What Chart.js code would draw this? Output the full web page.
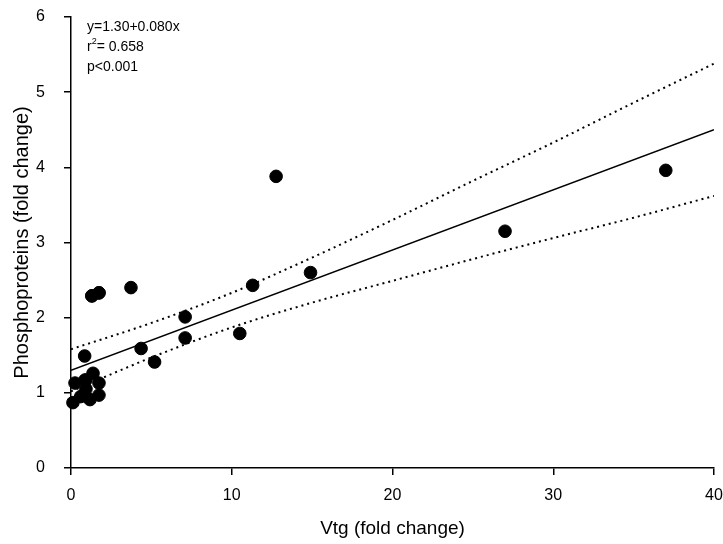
<!DOCTYPE html>
<html>
<head>
<meta charset="utf-8">
<script src="https://cdn.jsdelivr.net/npm/chart.js@4"></script>
<style>
  html, body { margin: 0; padding: 0; background: #fff; }
  #wrap { width: 723px; height: 544px; }
</style>
</head>
<body>
<div id="wrap"><canvas id="scatterChart" width="723" height="544"></canvas></div>
<script>
// Vtg vs phosphoproteins
const vtgValues = [0.12, 0.25, 0.6, 0.87, 0.93, 0.93, 1.18, 1.3, 1.37, 1.74, 1.74, 1.74, 0.85,
                   1.3, 1.74, 3.73, 4.36, 5.2, 7.1, 7.1, 10.5, 11.3, 12.76, 14.9, 27.0, 37.0];
const phosValues = [0.87, 1.13, 0.95, 1.17, 1.05, 1.17, 0.91, 2.29, 1.26, 1.13, 0.97, 2.33, 1.49,
                    2.29, 2.33, 2.40, 1.59, 1.41, 2.01, 1.73, 1.79, 2.43, 3.88, 2.60, 3.15, 3.96];

// regression line and 95% confidence band
const fitX = [0, 40];
const fitY = [1.30, 4.50];
const bandX = [0, 5, 10, 15, 20, 25, 30, 35, 40];
const upperY = [1.58, 1.93, 2.33, 2.80, 3.30, 3.82, 4.33, 4.86, 5.38];
const lowerY = [1.02, 1.47, 1.87, 2.20, 2.49, 2.78, 3.06, 3.33, 3.62];

const xTicks = [0, 10, 20, 30, 40];
const yTicks = [0, 1, 2, 3, 4, 5, 6];

const toPoints = (xs, ys) => xs.map((x, i) => ({ x, y: ys[i] }));

const FONT = 'Liberation Sans, Arial, sans-serif';

const annotation = {
    id: 'annotation',
    afterDraw(chart) {
        const ctx = chart.ctx;
        ctx.save();
        ctx.fillStyle = '#000';
        ctx.textBaseline = 'alphabetic';
        ctx.font = '14px ' + FONT;
        ctx.fillText('y=1.30+0.080x', 87, 31);
        ctx.fillText('r', 87, 51);
        const rw = ctx.measureText('r').width;
        ctx.font = '9px ' + FONT;
        ctx.fillText('2', 87 + rw, 44);
        const sw = ctx.measureText('2').width;
        ctx.font = '14px ' + FONT;
        ctx.fillText('= 0.658', 87 + rw + sw, 51);
        ctx.fillText('p<0.001', 87, 71);
        ctx.restore();
    }
};

const ctx = document.getElementById('scatterChart').getContext('2d');
new Chart(ctx, {
    type: 'scatter',
    data: {
        datasets: [
            {
                label: 'samples',
                data: toPoints(vtgValues, phosValues),
                backgroundColor: '#000',
                borderColor: '#000',
                pointRadius: 6.3,
                pointHoverRadius: 6.3,
                clip: false
            },
            {
                label: 'fit',
                type: 'line',
                data: toPoints(fitX, fitY),
                borderColor: '#000',
                borderWidth: 1.5,
                pointRadius: 0,
                fill: false
            },
            {
                label: 'upper',
                type: 'line',
                data: toPoints(bandX, upperY),
                borderColor: '#000',
                borderWidth: 2,
                borderDash: [2, 4],
                pointRadius: 0,
                cubicInterpolationMode: 'monotone',
                fill: false
            },
            {
                label: 'lower',
                type: 'line',
                data: toPoints(bandX, lowerY),
                borderColor: '#000',
                borderWidth: 2,
                borderDash: [2, 4],
                pointRadius: 0,
                cubicInterpolationMode: 'monotone',
                fill: false
            }
        ]
    },
    options: {
        responsive: false,
        animation: false,
        layout: { padding: { top: 17, right: 9, left: 0, bottom: 0 } },
        plugins: {
            legend: { display: false },
            tooltip: { enabled: false }
        },
        scales: {
            x: {
                type: 'linear',
                min: 0,
                max: 40,
                afterBuildTicks: (scale) => { scale.ticks = xTicks.map(v => ({ value: v })); },
                afterFit: (scale) => {
                    scale.height = 76;
                    scale.paddingLeft = 0;
                    scale.paddingRight = 0;
                },
                grid: { drawOnChartArea: false, drawTicks: true, tickLength: 7, color: '#000', lineWidth: 1.5 },
                border: { display: true, color: '#000', width: 1.5 },
                ticks: { color: '#000', font: { family: FONT, size: 16 }, padding: 11 },
                title: { display: true, text: 'Vtg (fold change)', color: '#000', font: { family: FONT, size: 19 }, padding: { top: 8 } }
            },
            y: {
                type: 'linear',
                min: 0,
                max: 6,
                afterBuildTicks: (scale) => { scale.ticks = yTicks.map(v => ({ value: v })); },
                afterFit: (scale) => {
                    scale.width = 71;
                    scale.paddingTop = 0;
                    scale.paddingBottom = 0;
                },
                grid: { drawOnChartArea: false, drawTicks: true, tickLength: 7, color: '#000', lineWidth: 1.5 },
                border: { display: true, color: '#000', width: 1.5 },
                ticks: { color: '#000', font: { family: FONT, size: 16 }, padding: 19 },
                title: { display: true, text: 'Phosphoproteins (fold change)', color: '#000', font: { family: FONT, size: 20 }, padding: { top: 10, bottom: 0 } }
            }
        }
    },
    plugins: [annotation]
});
</script>
</body>
</html>
